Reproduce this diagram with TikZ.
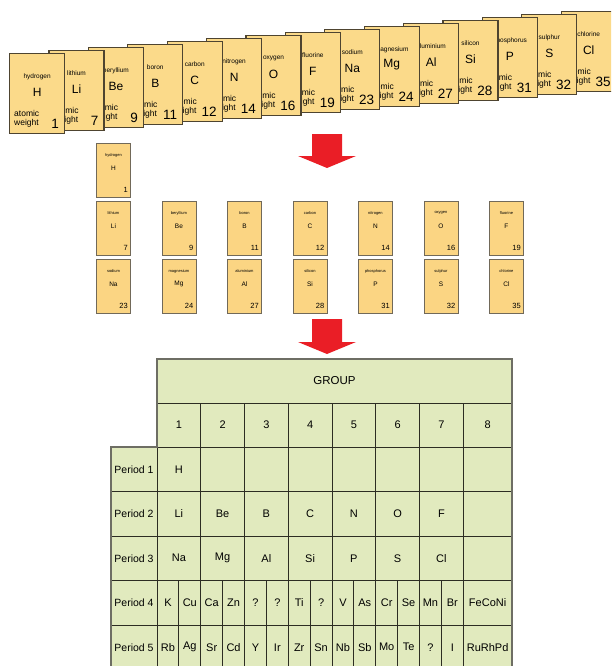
\documentclass[tikz,border=0pt]{standalone}
\usepackage{fontspec}
\setmainfont{Liberation Sans}
\usetikzlibrary{positioning}

\definecolor{cardfill}{RGB}{251,218,138}
\definecolor{cardline}{RGB}{78,68,48}
\definecolor{tablefill}{RGB}{225,234,190}
\definecolor{tableline}{RGB}{45,45,35}
\definecolor{tableedge}{RGB}{110,110,100}
\definecolor{arrowred}{RGB}{234,30,38}

\newcommand\sizept[1]{\fontsize{#1}{#1}\selectfont}

\tikzset{
  bigcard/.style={draw=cardline, fill=cardfill, line width=1.2pt, minimum width=55pt,
    minimum height=80pt, anchor=north west, inner sep=0pt},
  bigname/.style={inner sep=0pt, font=\sizept{6.5}},
  bigsym/.style={inner sep=0pt, font=\sizept{12}},
  bigatw/.style={inner sep=0pt, anchor=west, font=\sizept{8.5}},
  bigwt/.style={inner sep=0pt, anchor=east, font=\sizept{13.5}},
  smallcard/.style={draw=cardline!80, fill=cardfill!95!orange, line width=0.9pt, minimum width=34pt,
    minimum height=54pt, anchor=north west, inner sep=0pt},
  smallname/.style={inner sep=0pt, font=\sizept{4}},
  smallsym/.style={inner sep=0pt, font=\sizept{6.5}},
  smallwt/.style={inner sep=0pt, anchor=east, font=\sizept{7.5}},
  redarrow/.style={fill=arrowred},
  tcell/.style={draw=tableline, fill=tablefill, line width=0.9pt, anchor=north west,
    inner sep=0pt, outer sep=0pt, minimum height=44.5pt, font=\sizept{11}},
  gcell/.style={tcell, minimum width=355pt, minimum height=44pt, font=\sizept{11.5}},
  pcell/.style={tcell, minimum width=46pt, font=\sizept{10.5}},
  outline/.style={draw=tableedge, line width=1.6pt}
}

\newcommand\elemcard[5]{%
  \node[smallcard] (#1) at (#2) {};
  \node[smallname] (#1-n) at ([yshift=-12pt]#1.north) {#3};
  \node[smallsym] (#1-s) at ([yshift=-25pt]#1.north) {#4};
  \node[smallwt] (#1-w) at ([xshift=-3pt,yshift=-47pt]#1.north east) {#5};}

\begin{document}
\begin{tikzpicture}[x=1pt, y=-1pt]
\useasboundingbox (0,0) rectangle (611,666);
\clip (0,0) rectangle (611,666);

\foreach \i/\nm/\sy/\wt in {14/chlorine/Cl/35, 13/sulphur/S/32, 12/phosphorus/P/31,
    11/silicon/Si/28, 10/aluminium/Al/27, 9/magnesium/Mg/24, 8/sodium/Na/23,
    7/fluorine/F/19, 6/oxygen/O/16, 5/nitrogen/N/14, 4/carbon/C/12, 3/boron/B/11,
    2/beryllium/Be/9, 1/lithium/Li/7, 0/hydrogen/H/1}
  {\node[bigcard] (b\i) at ({9+39.4*\i},{53-3*\i}) {};
   \node[bigname] (b\i-n) at ([yshift=-23.5pt]b\i.north) {\nm};
   \node[bigsym] (b\i-s) at ([yshift=-39pt]b\i.north) {\sy};
   \node[bigatw] (b\i-a) at ([xshift=5pt,yshift=-60pt]b\i.north west) {atomic};
   \node[bigatw] (b\i-g) at ([xshift=5pt,yshift=-70.5pt]b\i.north west) {weight};
   \node[bigwt] (b\i-w) at ([xshift=-6pt,yshift=-71pt]b\i.north east) {\wt};}

\foreach \t/\b in {134/156, 319/342}
  \path[redarrow] (312,\t) -- (342,\t) -- (342,\b) -- (356,\b) -- (327,{\b+12})
    -- (298,\b) -- (312,\b) -- cycle;

\elemcard{m1}{96,143}{hydrogen}{H}{1}
\foreach \k/\nma/\sya/\wta/\nmb/\syb/\wtb in {0/lithium/Li/7/sodium/Na/23,
    1/beryllium/Be/9/magnesium/Mg/24, 2/boron/B/11/aluminium/Al/27,
    3/carbon/C/12/silicon/Si/28, 4/nitrogen/N/14/phosphorus/P/31,
    5/oxygen/O/16/sulphur/S/32, 6/fluorine/F/19/chlorine/Cl/35}
  {\elemcard{m2\k}{{96+65.5*\k},201}{\nma}{\sya}{\wta}
   \elemcard{m3\k}{{96+65.5*\k},259}{\nmb}{\syb}{\wtb}}

\node[gcell] (group) at (157,359) {GROUP};
\foreach \k/\w/\ra/\rb/\rc in {1/43.75/H/Li/Na, 2/43.75//Be/Mg, 3/43.75//B/Al,
    4/43.75//C/Si, 5/43.75//N/P, 6/43.75//O/S, 7/43.75//F/Cl, 8/48.75///}
  {\node[tcell, minimum width=\w*1pt, minimum height=44pt] (g\k) at ({157+43.75*(\k-1)},403) {\k};
   \node[tcell, minimum width=\w*1pt, below=0pt of g\k] (r1c\k) {\ra};
   \node[tcell, minimum width=\w*1pt, below=0pt of r1c\k] (r2c\k) {\rb};
   \node[tcell, minimum width=\w*1pt, below=0pt of r2c\k] (r3c\k) {\rc};}
\foreach \r in {1,...,5}
  \node[pcell] (p\r) at (111,{447+44.5*(\r-1)}) {Period \r};
\foreach \ra/\rb [count=\j from 0] in {K/Rb, Cu/Ag, Ca/Sr, Zn/Cd, ?/Y, ?/Ir, Ti/Zr,
    ?/Sn, V/Nb, As/Sb, Cr/Mo, Se/Te, Mn/?, Br/I}
  {\node[tcell, minimum width=21.875pt] (r4s\j) at ({157+21.875*\j},580.5) {\ra};
   \node[tcell, minimum width=21.875pt, below=0pt of r4s\j] (r5s\j) {\rb};}
\node[tcell, minimum width=48.75pt] (r4c8) at (463.25,580.5) {FeCoNi};
\node[tcell, minimum width=48.75pt, below=0pt of r4c8] (r5c8) {RuRhPd};
\draw[outline] (group.north west) -- (group.north east) -- (r5c8.south east)
  -- (p5.south west) -- (p1.north west) -- (p1.north east) -- cycle;
\end{tikzpicture}
\end{document}
